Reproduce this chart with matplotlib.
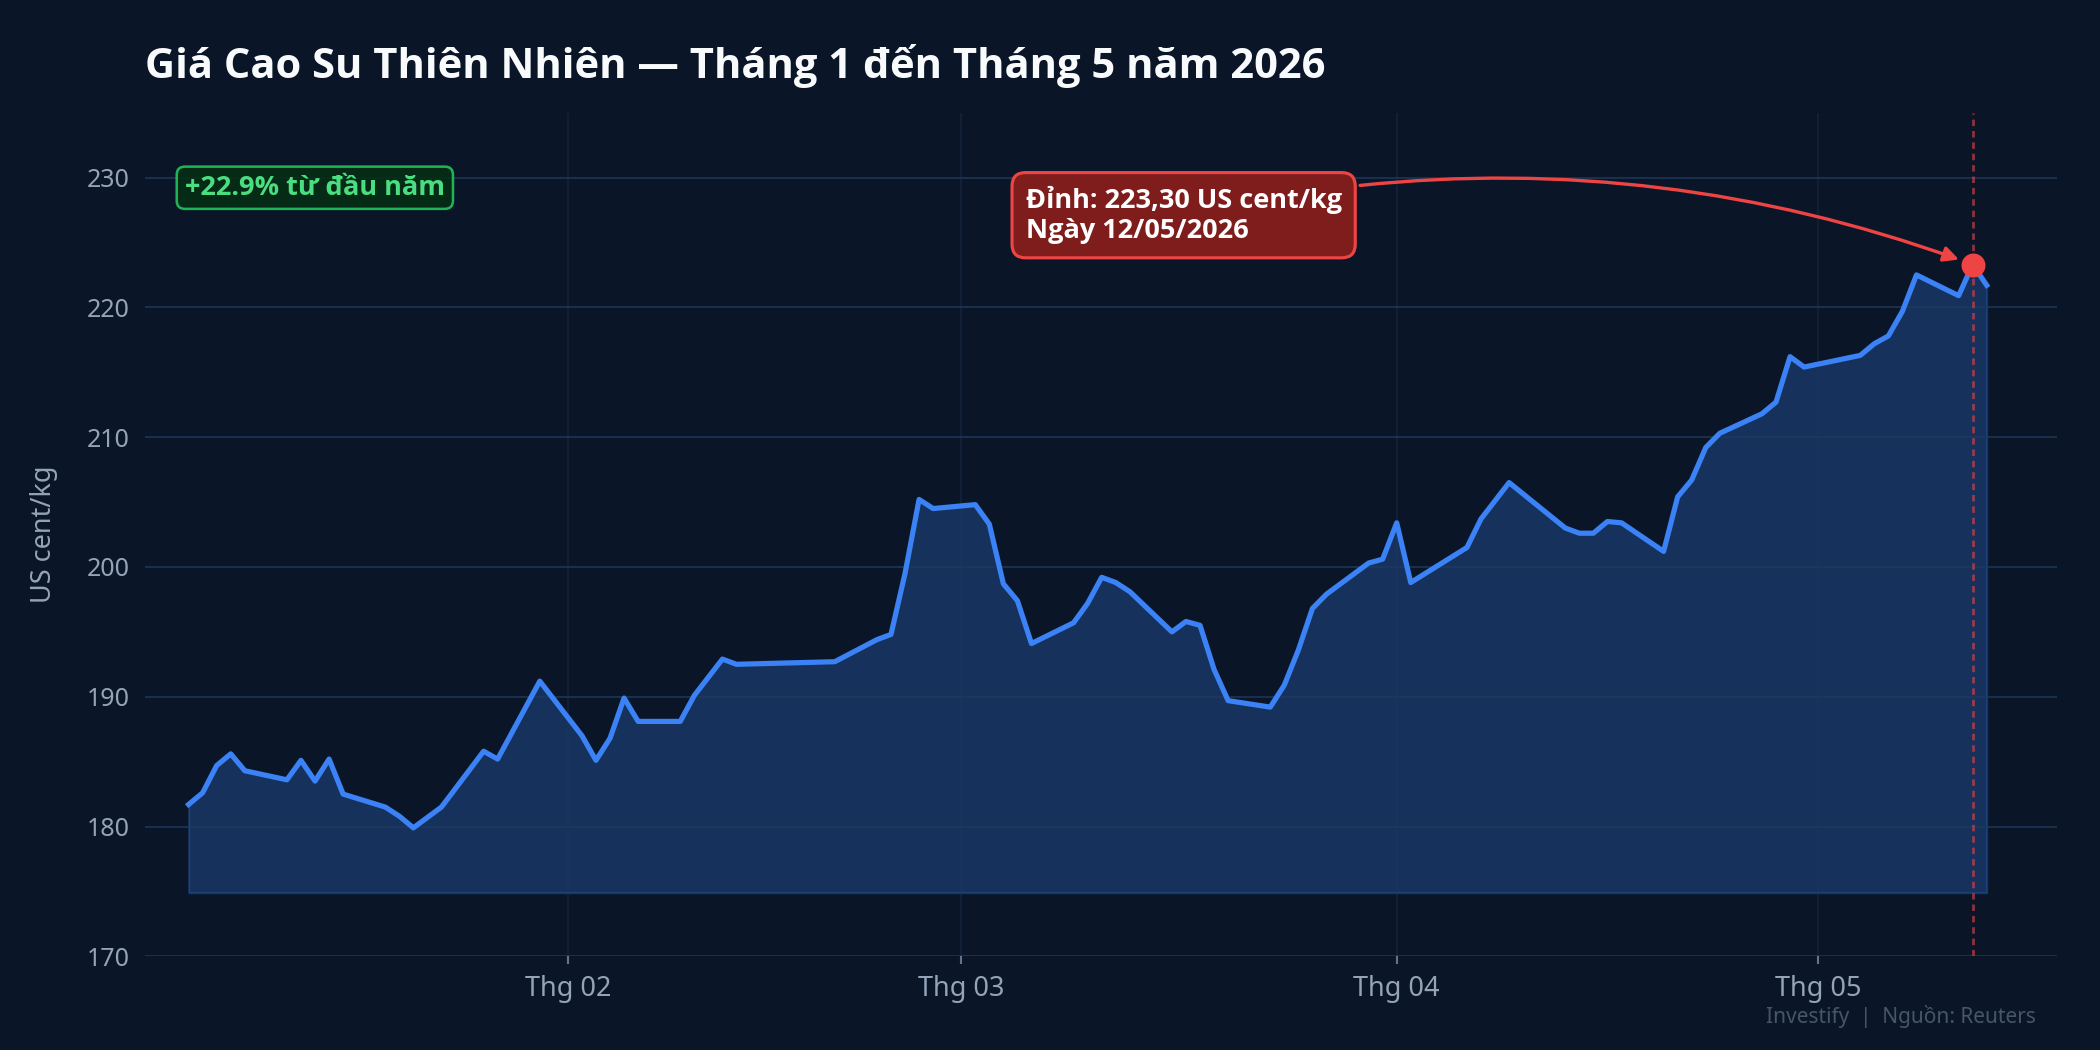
import pandas as pd
import numpy as np
import matplotlib
matplotlib.use('Agg')
import matplotlib.pyplot as plt
import matplotlib.dates as mdates

plt.rcParams['font.family'] = ['Noto Sans', 'DejaVu Sans']
BOLD = ['Open Sans', 'DejaVu Sans']

# giá cao su (US cent/kg)
dates = ['2026-01-05', '2026-01-06', '2026-01-07', '2026-01-08', '2026-01-09',
         '2026-01-12', '2026-01-13', '2026-01-14', '2026-01-15', '2026-01-16',
         '2026-01-19', '2026-01-20', '2026-01-21', '2026-01-23',
         '2026-01-26', '2026-01-27', '2026-01-30',
         '2026-02-02', '2026-02-03', '2026-02-04', '2026-02-05', '2026-02-06',
         '2026-02-09', '2026-02-10', '2026-02-12', '2026-02-13',
         '2026-02-20', '2026-02-23', '2026-02-24', '2026-02-25', '2026-02-26', '2026-02-27',
         '2026-03-02', '2026-03-03', '2026-03-04', '2026-03-05', '2026-03-06',
         '2026-03-09', '2026-03-10', '2026-03-11', '2026-03-12', '2026-03-13',
         '2026-03-16', '2026-03-17', '2026-03-18', '2026-03-19', '2026-03-20',
         '2026-03-23', '2026-03-24', '2026-03-25', '2026-03-26', '2026-03-27',
         '2026-03-30', '2026-03-31', '2026-04-01', '2026-04-02',
         '2026-04-06', '2026-04-07', '2026-04-09',
         '2026-04-13', '2026-04-14', '2026-04-15', '2026-04-16', '2026-04-17',
         '2026-04-20', '2026-04-21', '2026-04-22', '2026-04-23', '2026-04-24',
         '2026-04-27', '2026-04-28', '2026-04-29', '2026-04-30',
         '2026-05-04', '2026-05-05', '2026-05-06', '2026-05-07', '2026-05-08',
         '2026-05-11', '2026-05-12', '2026-05-13']
prices = [181.7, 182.6, 184.7, 185.6, 184.3,
          183.6, 185.1, 183.5, 185.2, 182.5,
          181.5, 180.8, 179.9, 181.5,
          185.8, 185.2, 191.2,
          187.0, 185.1, 186.8, 189.9, 188.1,
          188.1, 190.1, 192.9, 192.5,
          192.7, 194.4, 194.8, 199.5, 205.2, 204.5,
          204.8, 203.3, 198.7, 197.4, 194.1,
          195.7, 197.2, 199.2, 198.8, 198.1,
          195.0, 195.8, 195.5, 192.1, 189.7,
          189.2, 190.9, 193.6, 196.8, 197.9,
          200.3, 200.6, 203.4, 198.8,
          201.5, 203.7, 206.5,
          203.0, 202.6, 202.6, 203.5, 203.4,
          201.2, 205.4, 206.7, 209.2, 210.3,
          211.8, 212.7, 216.2, 215.4,
          216.3, 217.2, 217.8, 219.7, 222.5,
          220.9, 223.3, 221.7]
y_ticks = [170, 180, 190, 200, 210, 220, 230]

df = pd.DataFrame({'date': pd.to_datetime(dates), 'price': prices})

BG = '#0a1628'
BLUE = '#3b82f6'
RED = '#ef4444'

fig = plt.figure(figsize=(14, 7), dpi=150, facecolor=BG)
ax = fig.add_axes([0.0689, 0.0892, 0.9106, 0.8035], facecolor=BG)

base = df['price'].min() - 5
ax.fill_between(df['date'], df['price'], base, color=BLUE, alpha=0.25, lw=1)
ax.plot(df['date'], df['price'], color=BLUE, lw=2.5, zorder=3)

# đỉnh
i_max = df['price'].idxmax()
peak_date = df.loc[i_max, 'date']
peak_val = df.loc[i_max, 'price']
ax.axvline(peak_date, color=RED, lw=1.3, ls=(0, (2.4, 1.8)), alpha=0.6, zorder=2)
ax.scatter([peak_date], [peak_val], s=110, color=RED, zorder=5)

label = 'Đỉnh: {} US cent/kg\nNgày {}'.format(
    ('%.2f' % peak_val).replace('.', ','), peak_date.strftime('%d/%m/%Y'))
ax.annotate(label, xy=(peak_date, peak_val),
            xytext=(pd.Timestamp('2026-03-16 20:00'), 227.1), textcoords='data',
            ha='center', va='center', multialignment='left',
            fontsize=13, fontweight='bold', family=BOLD, color='white',
            bbox=dict(boxstyle='round,pad=0.5', fc='#7f1d1d', ec=RED, lw=1.5),
            arrowprops=dict(arrowstyle='-|>', color=RED, lw=1.6, mutation_scale=15,
                            connectionstyle='arc3,rad=-0.15', shrinkB=7),
            zorder=6)

pct = (peak_val / df['price'].iloc[0] - 1) * 100
ax.text(0.021, 0.911, '+%.1f%% từ đầu năm' % pct, transform=ax.transAxes,
        ha='left', va='center', fontsize=13, fontweight='bold', family=BOLD, color='#4ade80',
        bbox=dict(boxstyle='round,pad=0.3', fc='#052e16', ec='#22c55e', lw=1.2, alpha=0.9))

ax.set_ylim(170, 235)
ax.set_yticks(y_ticks)
ax.set_xlim(df['date'].iloc[0] - pd.Timedelta(hours=75), df['date'].iloc[-1] + pd.Timedelta(days=5))
ax.xaxis.set_major_locator(mdates.MonthLocator())
ax.xaxis.set_major_formatter(mdates.DateFormatter('Thg %m'))

ax.yaxis.grid(True, color='#1e3a5f', lw=0.9, alpha=0.75)
ax.xaxis.grid(True, color='#1e3a5f', lw=0.8, alpha=0.35)
for s in ax.spines.values():
    s.set_visible(False)
ax.tick_params(axis='y', length=0, pad=7, labelsize=12, labelcolor='#94a3b8')
ax.tick_params(axis='x', length=4, width=1, color='#64748b', pad=5, labelsize=13, labelcolor='#94a3b8')
ax.set_ylabel('US cent/kg', fontsize=13, color='#94a3b8', labelpad=14)

fig.text(0.0689, 0.926, 'Giá Cao Su Thiên Nhiên — Tháng 1 đến Tháng 5 năm 2026',
         fontsize=20, fontweight='bold', family=BOLD, color='#f8fafc', va='baseline', ha='left')
fig.text(0.9695, 0.0257, 'Investify  |  Nguồn: Reuters', fontsize=10, color='#475569',
         ha='right', va='baseline')

fig.savefig('out.png', dpi=150, facecolor=BG)
